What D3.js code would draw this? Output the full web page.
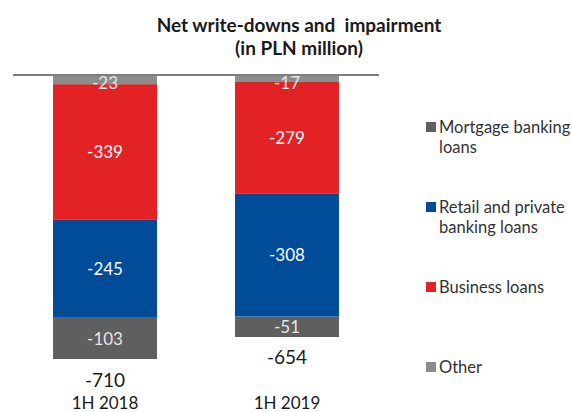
<!DOCTYPE html>
<html>
<head>
<meta charset="utf-8">
<script src="https://cdn.jsdelivr.net/npm/d3@7"></script>
<style>
  html, body { margin: 0; padding: 0; background: #fff; }
  svg { display: block; }
</style>
</head>
<body>
<svg id="chart" width="572" height="412"></svg>
<script>
// Periods and segment values (PLN million)
const periods = ["1H 2018", "1H 2019"];
const other = [-23, -17];
const business = [-339, -279];
const retail = [-245, -308];
const mortgage = [-103, -51];
const totals = [-710, -654];

// Stack order from the zero line downwards
const seriesKeys = ["other", "business", "retail", "mortgage"];
const seriesNames = {
  mortgage: ["Mortgage banking", "loans"],
  retail: ["Retail and private", "banking loans"],
  business: ["Business loans"],
  other: ["Other"]
};
const colors = {
  other: "#8c8c8c",
  business: "#e32226",
  retail: "#004c99",
  mortgage: "#5f5f5f"
};

const rows = periods.map((p, i) => ({
  period: p,
  other: other[i],
  business: business[i],
  retail: retail[i],
  mortgage: mortgage[i],
  total: totals[i]
}));

const svg = d3.select("#chart");

const x = d3.scaleBand()
  .domain(periods)
  .range([13, 379])
  .paddingInner(0.4286)
  .paddingOuter(0.22);

const y = d3.scaleLinear()
  .domain([0, -800])
  .range([75, 395]);

const stacked = d3.stack()
  .keys(seriesKeys)
  .offset(d3.stackOffsetDiverging)(rows);

const segTop = d => Math.min(y(d[0]), y(d[1]));
const segBottom = d => Math.max(y(d[0]), y(d[1]));

// Bars
const layers = svg.append("g").selectAll("g")
  .data(stacked)
  .join("g")
  .attr("fill", d => colors[d.key]);

layers.selectAll("rect")
  .data(d => d)
  .join("rect")
  .attr("x", d => x(d.data.period))
  .attr("width", x.bandwidth())
  .attr("y", d => segTop(d))
  .attr("height", d => segBottom(d) - segTop(d));

// Zero line
svg.append("line")
  .attr("x1", x.range()[0])
  .attr("x2", x.range()[1])
  .attr("y1", y(0))
  .attr("y2", y(0))
  .attr("stroke", "#7f7f7f")
  .attr("stroke-width", 2);

// Segment value labels (kept just below the zero line for thin segments)
svg.append("g").selectAll("g")
  .data(stacked)
  .join("g")
  .selectAll("text")
  .data(d => d.map(v => ({ v, key: d.key })))
  .join("text")
  .attr("x", d => x(d.v.data.period) + x.bandwidth() / 2)
  .attr("y", d => Math.max((segTop(d.v) + segBottom(d.v)) / 2, y(0) + 8))
  .attr("dy", "0.36em")
  .attr("text-anchor", "middle")
  .attr("font-family", "Lato, 'Open Sans', sans-serif")
  .attr("font-size", 17)
  .attr("fill", d => d.key === "mortgage" || d.key === "other" ? "#e6e6e6" : "#ffffff")
  .text(d => d.v.data[d.key]);

// Totals under each bar
svg.append("g").selectAll("text")
  .data(rows)
  .join("text")
  .attr("x", d => x(d.period) + x.bandwidth() / 2)
  .attr("y", d => y(d.total) + 21)
  .attr("dy", "0.36em")
  .attr("text-anchor", "middle")
  .attr("font-family", "Lato, 'Open Sans', sans-serif")
  .attr("font-size", 19)
  .attr("fill", "#1a1a1a")
  .text(d => d.total);

// Category axis labels
const xAxis = svg.append("g")
  .attr("transform", "translate(0,397)")
  .call(d3.axisBottom(x).tickSize(0).tickPadding(0));
xAxis.select(".domain").remove();
xAxis.selectAll("text")
  .attr("dy", "0.71em")
  .attr("font-family", "Lato, 'Open Sans', sans-serif")
  .attr("font-size", 17)
  .attr("fill", "#1a1a1a");

// Title
const title = svg.append("text")
  .attr("text-anchor", "middle")
  .attr("font-family", "Lato, 'Open Sans', sans-serif")
  .attr("font-weight", 700)
  .attr("font-size", 19)
  .attr("fill", "#1a1a1a");
title.append("tspan").attr("x", 299).attr("y", 32).text("Net write-downs and\u00a0 impairment");
title.append("tspan").attr("x", 299).attr("y", 55).text("(in PLN million)");

// Legend
const legendOrder = ["mortgage", "retail", "business", "other"];
const legend = svg.append("g")
  .selectAll("g")
  .data(legendOrder)
  .join("g")
  .attr("transform", (d, i) => `translate(426,${133 + i * 80})`);

legend.append("rect")
  .attr("x", 0)
  .attr("y", -11)
  .attr("width", 10)
  .attr("height", 10)
  .attr("fill", d => colors[d]);

legend.append("text")
  .attr("font-family", "Lato, 'Open Sans', sans-serif")
  .attr("font-size", 16.5)
  .attr("fill", "#333")
  .selectAll("tspan")
  .data(d => seriesNames[d])
  .join("tspan")
  .attr("x", 13)
  .attr("y", (d, i) => i * 20)
  .text(d => d);
</script>
</body>
</html>
